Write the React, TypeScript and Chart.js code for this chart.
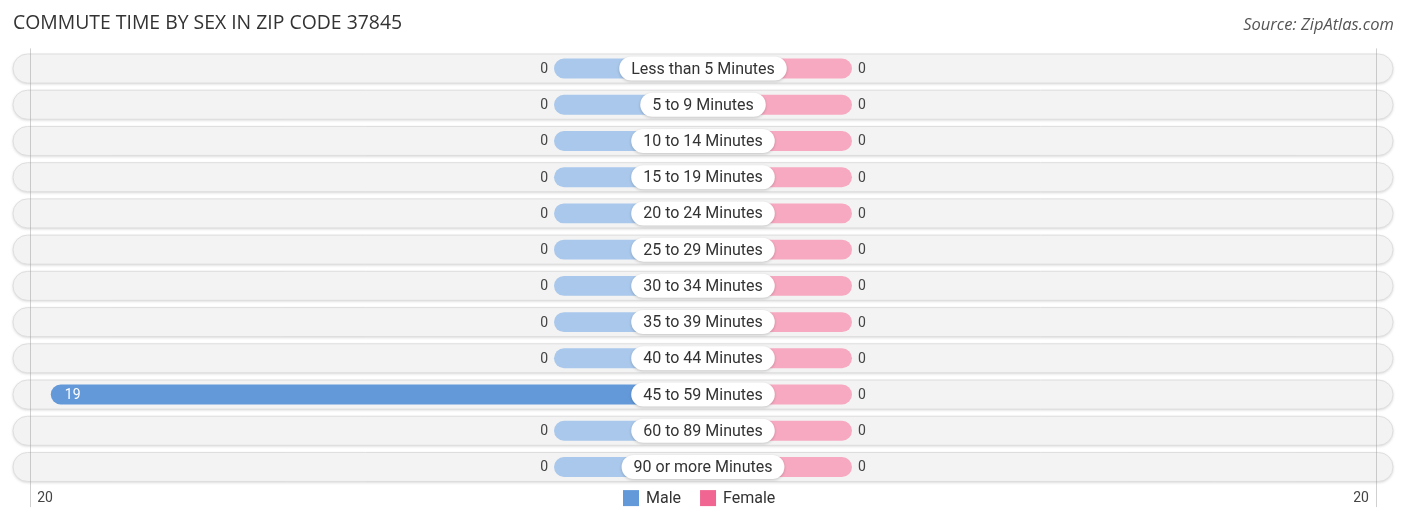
import React, { useEffect, useRef } from "react";
import { Chart, registerables } from "chart.js";

Chart.register(...registerables);

const TITLE = "COMMUTE TIME BY SEX IN ZIP CODE 37845";
const SOURCE = "Source: ZipAtlas.com";
const categories = [
  "Less than 5 Minutes",
  "5 to 9 Minutes",
  "10 to 14 Minutes",
  "15 to 19 Minutes",
  "20 to 24 Minutes",
  "25 to 29 Minutes",
  "30 to 34 Minutes",
  "35 to 39 Minutes",
  "40 to 44 Minutes",
  "45 to 59 Minutes",
  "60 to 89 Minutes",
  "90 or more Minutes",
];
const maleValues = [0, 0, 0, 0, 0, 0, 0, 0, 0, 19, 0, 0];
const femaleValues = [0, 0, 0, 0, 0, 0, 0, 0, 0, 0, 0, 0];
const tickLabels = ["20", "20"];
const legendLabels = ["Male", "Female"];
const AXIS_MAX = 20.1;
const MIN_STUB = 4.34;

const MALE_FULL = "#6399d9";
const MALE_STUB = "#a9c8ec";
const FEMALE_FULL = "#f06591";
const FEMALE_STUB = "#f7a9c1";

function roundRect(ctx: CanvasRenderingContext2D, x: number, y: number, w: number, h: number, r: number) {
  ctx.beginPath();
  ctx.moveTo(x + r, y);
  ctx.lineTo(x + w - r, y);
  ctx.arc(x + w - r, y + r, r, -Math.PI / 2, Math.PI / 2);
  ctx.lineTo(x + r, y + h);
  ctx.arc(x + r, y + r, r, Math.PI / 2, (3 * Math.PI) / 2);
  ctx.closePath();
}

const decorPlugin = {
  id: "decor",
  beforeDatasetsDraw(chart: any) {
    const ctx = chart.ctx as CanvasRenderingContext2D;
    const { left, right } = chart.chartArea;
    const yScale = chart.scales.y;
    ctx.save();
    categories.forEach((_, i) => {
      const yc = yScale.getPixelForValue(i);
      const h = 29;
      ctx.save();
      ctx.shadowColor = "rgba(0,0,0,0.18)";
      ctx.shadowBlur = 3;
      ctx.shadowOffsetY = 1;
      roundRect(ctx, left, yc - h / 2, right - left, h, h / 2);
      ctx.fillStyle = "#f3f3f3";
      ctx.fill();
      ctx.restore();
      roundRect(ctx, left, yc - h / 2, right - left, h, h / 2);
      ctx.strokeStyle = "#dedede";
      ctx.lineWidth = 1;
      ctx.stroke();
    });
    ctx.strokeStyle = "rgba(150,150,150,0.45)";
    ctx.lineWidth = 1;
    const xl = left + 17.5;
    const xr = right - 16.5;
    [xl, xr].forEach((x) => {
      ctx.beginPath();
      ctx.moveTo(x, chart.chartArea.top - 2);
      ctx.lineTo(x, chart.chartArea.bottom + 22);
      ctx.stroke();
    });
    ctx.restore();
  },
  afterDatasetsDraw(chart: any) {
    const ctx = chart.ctx as CanvasRenderingContext2D;
    const { left, right, bottom } = chart.chartArea;
    const xScale = chart.scales.x;
    const yScale = chart.scales.y;
    const cx = xScale.getPixelForValue(0);
    ctx.save();
    ctx.textBaseline = "middle";
    categories.forEach((cat, i) => {
      const yc = yScale.getPixelForValue(i);
      const mv = maleValues[i];
      const mEnd = xScale.getPixelForValue(-Math.max(mv, MIN_STUB));
      ctx.font = "14px Roboto";
      if (mv >= 10) {
        ctx.fillStyle = "#ffffff";
        ctx.textAlign = "left";
        ctx.fillText(String(mv), mEnd + 14, yc + 1);
      } else {
        ctx.fillStyle = "#444";
        ctx.textAlign = "right";
        ctx.fillText(String(mv), mEnd - 6, yc + 1);
      }
      const fv = femaleValues[i];
      const fEnd = xScale.getPixelForValue(Math.max(fv, MIN_STUB));
      if (fv >= 10) {
        ctx.fillStyle = "#ffffff";
        ctx.textAlign = "right";
        ctx.fillText(String(fv), fEnd - 14, yc + 1);
      } else {
        ctx.fillStyle = "#444";
        ctx.textAlign = "left";
        ctx.fillText(String(fv), fEnd + 6, yc + 1);
      }
      ctx.font = "16px Roboto";
      const tw = ctx.measureText(cat).width;
      const pw = tw + 24;
      const ph = 24;
      ctx.save();
      ctx.shadowColor = "rgba(0,0,0,0.2)";
      ctx.shadowBlur = 3;
      ctx.shadowOffsetY = 1;
      roundRect(ctx, cx - pw / 2, yc - ph / 2, pw, ph, ph / 2);
      ctx.fillStyle = "#ffffff";
      ctx.fill();
      ctx.restore();
      ctx.fillStyle = "#333";
      ctx.textAlign = "center";
      ctx.fillText(cat, cx, yc + 1);
    });

    ctx.font = "14px Roboto";
    ctx.fillStyle = "#444";
    ctx.textAlign = "center";
    ctx.fillText(tickLabels[0], left + 32, bottom + 13);
    ctx.fillText(tickLabels[1], right - 32, bottom + 13);

    ctx.font = "16px Roboto";
    const colors = [MALE_FULL, FEMALE_FULL];
    let lx = 623;
    const ly = bottom + 13;
    legendLabels.forEach((lab, k) => {
      ctx.fillStyle = colors[k];
      ctx.fillRect(lx, ly - 8, 16, 16);
      ctx.fillStyle = "#333";
      ctx.textAlign = "left";
      ctx.fillText(lab, lx + 23, ly + 1);
      lx += 23 + ctx.measureText(lab).width + 19;
    });

    ctx.textBaseline = "alphabetic";
    ctx.font = "19.4px 'Open Sans'";
    ctx.fillStyle = "#333";
    ctx.textAlign = "left";
    ctx.fillText(TITLE, 13, 29);
    ctx.font = "italic 16.5px 'Open Sans'";
    ctx.fillStyle = "#555";
    ctx.textAlign = "right";
    ctx.fillText(SOURCE, 1394, 30);
    ctx.restore();
  },
};

export default function App() {
  const ref = useRef<HTMLCanvasElement | null>(null);
  useEffect(() => {
    if (!ref.current) return;
    const chart = new Chart(ref.current, {
      type: "bar",
      data: {
        labels: categories,
        datasets: [
          {
            label: "Male",
            data: maleValues.map((v) => -Math.max(v, MIN_STUB)),
            backgroundColor: maleValues.map((v) => (v > 0 ? MALE_FULL : MALE_STUB)),
            borderRadius: 10,
            borderSkipped: false,
            barPercentage: 0.55,
            categoryPercentage: 1,
          },
          {
            label: "Female",
            data: femaleValues.map((v) => Math.max(v, MIN_STUB)),
            backgroundColor: femaleValues.map((v) => (v > 0 ? FEMALE_FULL : FEMALE_STUB)),
            borderRadius: 10,
            borderSkipped: false,
            barPercentage: 0.55,
            categoryPercentage: 1,
          },
        ],
      },
      options: {
        indexAxis: "y",
        responsive: false,
        animation: false,
        devicePixelRatio: 1,
        layout: { padding: { left: 13, right: 13, top: 50.4, bottom: 37.9 } },
        plugins: { legend: { display: false }, title: { display: false }, tooltip: { enabled: false } },
        scales: {
          x: { display: false, stacked: true, min: -AXIS_MAX, max: AXIS_MAX },
          y: { display: false, stacked: true },
        },
      },
      plugins: [decorPlugin],
    });
    return () => chart.destroy();
  }, []);
  return (
    <div style={{ position: "fixed", left: 0, top: 0, width: 1406, height: 523, background: "#fff" }}>
      <canvas ref={ref} width={1406} height={523} style={{ width: 1406, height: 523 }} />
    </div>
  );
}
